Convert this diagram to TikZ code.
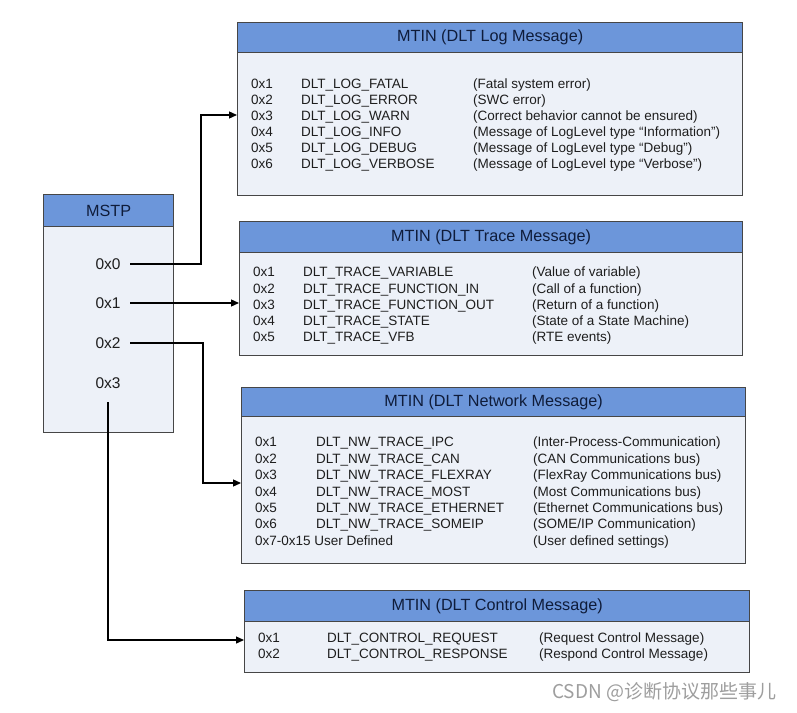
\documentclass[tikz,border=0pt]{standalone}
\usepackage{fontspec}
\setmainfont{Liberation Sans}
\newfontfamily\cjk{Noto Sans CJK SC}
\usetikzlibrary{arrows.meta}
\definecolor{hdrblue}{RGB}{108,150,218}
\definecolor{bodyfill}{RGB}{237,241,248}
\definecolor{edge}{RGB}{70,70,70}
\definecolor{hdrtext}{RGB}{15,28,58}
\definecolor{rowtext}{RGB}{30,30,30}
\tikzset{
  boxbody/.style={draw=edge, line width=1.3pt, fill=bodyfill, anchor=north west, inner sep=0pt},
  boxhead/.style={draw=edge, line width=1.3pt, fill=hdrblue, anchor=north west, inner sep=0pt, text=hdrtext, font=\fontsize{16.2}{18}\selectfont},
  rowtxt/.style={anchor=base west, inner sep=0pt, text=rowtext, font=\fontsize{13.5}{15}\selectfont},
  mval/.style={anchor=base, inner sep=0pt, text=rowtext, font=\fontsize{15.5}{17}\selectfont},
  conn/.style={line width=1.3pt, draw=black, -{Triangle[length=8pt,width=7pt]}},
}
\begin{document}
\begin{tikzpicture}[x=1pt,y=-1pt]
\useasboundingbox (0,0) rectangle (797,712);
\fill[white] (0,0) rectangle (797,712);

% ---------- MSTP box ----------
\node[boxbody, minimum width=130pt, minimum height=238pt] (mstp) at (43,194) {};
\node[boxhead, minimum width=130pt, minimum height=32pt] (mstph) at (43,194) {MSTP};
\node[mval] (m0) at (108,269.5) {0x0};
\node[mval] (m1) at (108,308.5) {0x1};
\node[mval] (m2) at (108,348.5) {0x2};
\node[mval] (m3) at (108,388.5) {0x3};

% ---------- Log box ----------
\node[boxbody, minimum width=505pt, minimum height=173pt] (logb) at (237,22) {};
\node[boxhead, minimum width=505pt, minimum height=30pt] (logh) at (237,22) {MTIN (DLT Log Message)};
\foreach \i/\a/\b/\c in {
  1/0x1/DLT\_LOG\_FATAL/(Fatal system error),
  2/0x2/DLT\_LOG\_ERROR/(SWC error),
  3/0x3/DLT\_LOG\_WARN/(Correct behavior cannot be ensured),
  4/0x4/DLT\_LOG\_INFO/(Message of LogLevel type “Information”),
  5/0x5/DLT\_LOG\_DEBUG/(Message of LogLevel type “Debug”),
  6/0x6/DLT\_LOG\_VERBOSE/(Message of LogLevel type “Verbose”)}{
  \pgfmathsetmacro\yy{84+16*(\i-1)+4.8}
  \node[rowtxt] (la\i) at (251,\yy) {\a};
  \node[rowtxt] (lb\i) at (301,\yy) {\b};
  \node[rowtxt] (lc\i) at (473,\yy) {\c};
}

% ---------- Trace box ----------
\node[boxbody, minimum width=503pt, minimum height=134pt] (trb) at (239,221) {};
\node[boxhead, minimum width=503pt, minimum height=31pt] (trh) at (239,221) {MTIN (DLT Trace Message)};
\foreach \i/\a/\b/\c in {
  1/0x1/DLT\_TRACE\_VARIABLE/(Value of variable),
  2/0x2/DLT\_TRACE\_FUNCTION\_IN/(Call of a function),
  3/0x3/DLT\_TRACE\_FUNCTION\_OUT/(Return of a function),
  4/0x4/DLT\_TRACE\_STATE/(State of a State Machine),
  5/0x5/DLT\_TRACE\_VFB/(RTE events)}{
  \pgfmathsetmacro\yy{272+16.2*(\i-1)+4.8}
  \node[rowtxt] (ta\i) at (253,\yy) {\a};
  \node[rowtxt] (tb\i) at (303,\yy) {\b};
  \node[rowtxt] (tc\i) at (532,\yy) {\c};
}

% ---------- Network box ----------
\node[boxbody, minimum width=504pt, minimum height=176pt] (nwb) at (241,387) {};
\node[boxhead, minimum width=504pt, minimum height=29pt] (nwh) at (241,387) {MTIN (DLT Network Message)};
\foreach \i/\a/\b/\c in {
  1/0x1/DLT\_NW\_TRACE\_IPC/{(Inter-Process-Communication)},
  2/0x2/DLT\_NW\_TRACE\_CAN/{(CAN Communications bus)},
  3/0x3/DLT\_NW\_TRACE\_FLEXRAY/{(FlexRay Communications bus)},
  4/0x4/DLT\_NW\_TRACE\_MOST/{(Most Communications bus)},
  5/0x5/DLT\_NW\_TRACE\_ETHERNET/{(Ethernet Communications bus)},
  6/0x6/DLT\_NW\_TRACE\_SOMEIP/{(SOME/IP Communication)}}{
  \pgfmathsetmacro\yy{442+16.4*(\i-1)+4.8}
  \node[rowtxt] (na\i) at (255,\yy) {\a};
  \node[rowtxt] (nb\i) at (316,\yy) {\b};
  \node[rowtxt] (nc\i) at (533,\yy) {\c};
}
\node[rowtxt] (na7) at (255,545.2) {0x7-0x15 User Defined};
\node[rowtxt] (nc7) at (533,545.2) {(User defined settings)};

% ---------- Control box ----------
\node[boxbody, minimum width=505pt, minimum height=82pt] (ctb) at (244,590) {};
\node[boxhead, minimum width=505pt, minimum height=31pt] (cth) at (244,590) {MTIN (DLT Control Message)};
\node[rowtxt] (ca1) at (258,642.8) {0x1};
\node[rowtxt] (cb1) at (327,642.8) {DLT\_CONTROL\_REQUEST};
\node[rowtxt] (cc1) at (539,642.8) {(Request Control Message)};
\node[rowtxt] (ca2) at (258,658.8) {0x2};
\node[rowtxt] (cb2) at (327,658.8) {DLT\_CONTROL\_RESPONSE};
\node[rowtxt] (cc2) at (539,658.8) {(Respond Control Message)};

% ---------- connectors ----------
\coordinate (s0) at (130,264);
\coordinate (j0) at (201,264);
\coordinate (t0) at (logb.west |- 0,115);
\coordinate (s1) at (130,303);
\coordinate (t1) at (trb.west |- 0,303);
\coordinate (s2) at (130,343);
\coordinate (j2) at (203,343);
\coordinate (t2) at (nwb.west |- 0,483);
\coordinate (s3) at (108,402);
\coordinate (t3) at (ctb.west |- 0,640);
\draw[conn] (s0) -- (j0) |- (t0);
\draw[conn] (s1) -- (t1);
\draw[conn] (s2) -- (j2) |- (t2);
\draw[conn] (s3) |- (t3);

% ---------- watermark ----------
\node[anchor=base west, inner sep=0pt, text=black!38, font=\cjk\fontsize{19}{21}\selectfont] (wm) at (552,698) {CSDN @诊断协议那些事儿};
\end{tikzpicture}
\end{document}
